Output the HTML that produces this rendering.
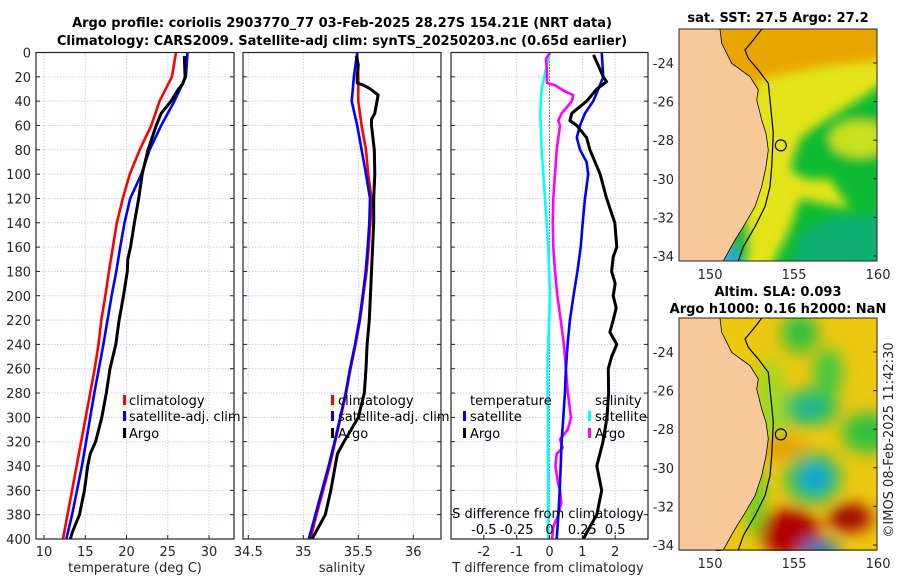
<!DOCTYPE html>
<html><head><meta charset="utf-8"><style>
html,body{margin:0;padding:0;background:#fff;}
svg{display:block;font-family:"DejaVu Sans","Liberation Sans",sans-serif;}
</style></head><body>
<svg id="fig" width="900" height="580" viewBox="0 0 900 580" xmlns="http://www.w3.org/2000/svg">
<defs>
<filter id="blur1" x="-20%" y="-20%" width="140%" height="140%"><feGaussianBlur stdDeviation="5"/></filter>
<filter id="blur2" x="-30%" y="-30%" width="160%" height="160%"><feGaussianBlur stdDeviation="8"/></filter>
<clipPath id="clipm1"><rect x="679" y="29" width="198" height="232"/></clipPath>
<clipPath id="clipm2"><rect x="679" y="318" width="198" height="233"/></clipPath>
</defs>
<text x="342" y="27" text-anchor="middle" font-size="13" font-weight="bold" fill="#000">Argo profile: coriolis 2903770_77 03-Feb-2025 28.27S 154.21E (NRT data)</text>
<text x="342" y="45" text-anchor="middle" font-size="13" font-weight="bold" fill="#000">Climatology: CARS2009. Satellite-adj clim: synTS_20250203.nc (0.65d earlier)</text>
<g id="panels"></g>
<g id="maps"></g>
<text transform="translate(893,440) rotate(-90)" text-anchor="middle" font-size="13" fill="#262626">©IMOS 08-Feb-2025 11:42:30</text>
</svg>
<script>
// ---- data ----
const depthClim = [0,20,40,60,80,100,120,140,160,180,200,220,240,260,280,300,320,340,360,380,400];
const tempClim = [26.0,25.5,24.0,23.0,21.6,20.4,19.55,18.83,18.35,17.87,17.43,16.95,16.6,16.15,15.6,15.06,14.5,13.95,13.4,12.85,12.3];
const tempSat  = [27.4,27.2,25.8,24.2,22.8,21.8,20.45,19.76,19.24,18.76,18.2,17.7,17.2,16.65,16.1,15.6,15.1,14.6,14.0,13.4,12.7];
const depthArgoT = [3,20,26,30,40,50,60,80,100,120,140,160,170,180,200,220,240,260,280,300,320,330,340,360,380,390,395,400];
const tempArgo = [27.0,27.1,26.8,26.3,25.4,24.2,23.6,22.6,21.9,21.48,20.96,20.48,20.16,20.1,19.64,19.1,18.7,18.0,17.55,17.0,16.26,15.6,15.3,14.9,14.3,13.7,13.4,13.2];
const salClim = [35.49,35.50,35.50,35.53,35.57,35.59,35.62,35.61,35.595,35.575,35.545,35.515,35.475,35.43,35.39,35.34,35.29,35.24,35.18,35.12,35.065];
const salSat  = [35.49,35.46,35.44,35.49,35.53,35.57,35.606,35.60,35.585,35.567,35.54,35.51,35.47,35.425,35.385,35.335,35.285,35.23,35.17,35.11,35.05];
const depthArgoS = [3,10,20,25,27,30,35,40,50,55,60,80,100,120,140,160,180,200,220,240,260,280,300,320,330,340,360,380,400];
const salArgo = [35.48,35.50,35.49,35.49,35.55,35.61,35.68,35.67,35.65,35.62,35.62,35.645,35.65,35.64,35.64,35.63,35.62,35.61,35.60,35.58,35.57,35.555,35.50,35.37,35.31,35.29,35.25,35.20,35.08];
const depthDT = [2,20,24,30,40,50,56,60,70,80,100,120,140,160,168,180,190,200,210,220,230,240,250,260,280,300,320,340,360,380,390,400];
const dTArgo = [1.34,1.64,1.74,1.44,1.13,0.68,0.62,0.83,1.13,1.23,1.54,1.74,1.99,2.05,1.94,1.89,2.0,1.94,2.03,1.94,1.84,2.05,1.89,1.79,1.80,1.75,1.63,1.44,1.59,1.44,1.23,1.03];
const depthDTs = [0,20,30,40,50,60,70,80,90,100,120,140,160,180,200,220,240,260,280,300,320,340,360,380,400];
const dTSat = [1.59,1.64,1.49,1.33,1.08,0.93,0.83,0.93,1.13,1.18,1.08,1.01,0.95,0.85,0.73,0.62,0.55,0.50,0.47,0.42,0.37,0.34,0.31,0.27,0.22];
const depthDS = [0,5,15,25,27,32,35,40,44,50,56,60,80,100,120,140,160,180,200,220,240,260,278,300,310,318,325,330,340,355,360,370,380,390,400];
const dSArgo = [0.004,-0.027,-0.02,-0.02,0.042,0.118,0.18,0.17,0.14,0.093,0.067,0.08,0.055,0.042,0.029,0.025,0.029,0.042,0.06,0.085,0.11,0.125,0.138,0.164,0.14,0.08,0.10,0.055,0.045,0.067,0.08,0.09,0.067,0.029,0.019];
const depthDSs = [0,10,30,50,80,120,160,200,260,300,400];
const dSSat = [0.004,-0.02,-0.06,-0.07,-0.06,-0.034,-0.01,0.004,-0.017,-0.012,-0.01];
const depthTicks = [0,20,40,60,80,100,120,140,160,180,200,220,240,260,280,300,320,340,360,380,400];
const tTicks = [10,15,20,25,30];
const sTicks = [34.5,35,35.5,36];
const dTTicks = [-2,-1,0,1,2];
const dSTicks = [-0.5,-0.25,0,0.25,0.5];
const dSTickLabels = ["-0.5","-0.25","0","0.25","0.5"];
const lonTicks = [150,155,160];
const latTicks = [-24,-26,-28,-30,-32,-34];
const argoLon = 154.21, argoLat = -28.27;

const NS='http://www.w3.org/2000/svg';
const fig=document.getElementById('panels');
function mk(tag,attrs,parent){const e=document.createElementNS(NS,tag);for(const k in attrs)e.setAttribute(k,attrs[k]);(parent||fig).appendChild(e);return e;}
const top0=52.5, bot0=539;
const yD = d => top0 + d*(bot0-top0)/400;
function linX(x0,x1,v0,v1){return v=>x0+(v-v0)*(x1-x0)/(v1-v0);}
const xT = linX(44,209,10,30);
const xS = linX(248.3,413.3,34.5,36);
const xDT = linX(451,648,-3,3);
const xDS = linX(451,648,-0.75,0.75);

const P=[{x0:36,x1:234,name:'temperature-panel'},{x0:243,x1:441,name:'salinity-panel'},{x0:451,x1:648,name:'difference-panel'}];

function grid(p,xs,fx){
  depthTicks.forEach(d=>{const g=mk('line',{x1:p.x0,x2:p.x1,y1:yD(d),y2:yD(d),stroke:'#c8cdf0','stroke-width':1,'stroke-dasharray':'1.5 1.5'});
    });
  xs.forEach(v=>{const g=mk('line',{x1:fx(v),x2:fx(v),y1:top0,y2:bot0,stroke:'#c8cdf0','stroke-width':1,'stroke-dasharray':'1.5 1.5'});
    });
}
function frame(p,xs,fx){
  const r=mk('rect',{x:p.x0,y:top0,width:p.x1-p.x0,height:bot0-top0,fill:'none',stroke:'#262626','stroke-width':1.2});
  
  depthTicks.forEach(d=>{
    const a=mk('line',{x1:p.x0,x2:p.x0+4,y1:yD(d),y2:yD(d),stroke:'#262626'});
    
    const b=mk('line',{x1:p.x1-4,x2:p.x1,y1:yD(d),y2:yD(d),stroke:'#262626'});
    
  });
  xs.forEach(v=>{const t=mk('line',{x1:fx(v),x2:fx(v),y1:bot0-4,y2:bot0,stroke:'#262626'});
    });
}
function line(xs,ys,fx,color,name,w){
  const pts=xs.map((v,i)=>fx(v).toFixed(1)+','+yD(ys[i]).toFixed(1)).join(' ');
  const l=mk('polyline',{points:pts,fill:'none',stroke:color,'stroke-width':w||2.6,'stroke-linejoin':'round'});
  
}
function text(x,y,s,opts,name){
  const t=mk('text',Object.assign({x:x,y:y,'font-size':13,fill:'#262626'},opts||{}));t.textContent=s;
  return t;
}
function marker(x,y,color){
  const m=mk('rect',{x:x,y:y-10,width:3,height:10,fill:color});
  
}

// panel 1
grid(P[0],tTicks,xT);
line(tempClim,depthClim,xT,'#ff0000','temp-climatology-line');
line(tempSat,depthClim,xT,'#0000ff','temp-satellite-line');
line(tempArgo,depthArgoT,xT,'#000000','temp-argo-line',3);
frame(P[0],tTicks,xT);
depthTicks.forEach(d=>text(31,yD(d)+5,String(d),{'text-anchor':'end'},'depth-tick-label'));
tTicks.forEach(v=>text(xT(v),556,String(v),{'text-anchor':'middle'},'temp-tick-label'));
text(135,572,'temperature (deg C)',{'text-anchor':'middle'},'temp-axis-title');
marker(123,405,'#ff0000');text(129,405,'climatology',{fill:'#000'},'legend-climatology');
marker(123,421,'#0000ff');text(129,421,'satellite-adj. clim',{fill:'#000'},'legend-satellite-adj');
marker(123,438,'#000');text(129,438,'Argo',{fill:'#000'},'legend-argo');

// panel 2
grid(P[1],sTicks,xS);
line(salClim,depthClim,xS,'#ff0000','sal-climatology-line');
line(salSat,depthClim,xS,'#0000ff','sal-satellite-line');
line(salArgo,depthArgoS,xS,'#000000','sal-argo-line',3);
frame(P[1],sTicks,xS);
sTicks.forEach(v=>text(xS(v),556,String(v),{'text-anchor':'middle'},'sal-tick-label'));
text(342,572,'salinity',{'text-anchor':'middle'},'sal-axis-title');
marker(331,405,'#ff0000');text(338,405,'climatology',{fill:'#000'},'legend-climatology');
marker(331,421,'#0000ff');text(338,421,'satellite-adj. clim',{fill:'#000'},'legend-satellite-adj');
marker(331,438,'#000');text(338,438,'Argo',{fill:'#000'},'legend-argo');

// panel 3
grid(P[2],dTTicks,xDT);
const zl=mk('line',{x1:xDT(0),x2:xDT(0),y1:top0,y2:bot0,stroke:'#333','stroke-width':1,'stroke-dasharray':'1 2'});

line(dSSat,depthDSs,xDS,'#00ffff','sdiff-satellite-line');
line(dSArgo,depthDS,xDS,'#ff00ff','sdiff-argo-line');
line(dTSat,depthDTs,xDT,'#0000ff','tdiff-satellite-line');
line(dTArgo,depthDT,xDT,'#000000','tdiff-argo-line',3);
frame(P[2],dTTicks,xDT);
dTTicks.forEach(v=>text(xDT(v),556,String(v),{'text-anchor':'middle'},'tdiff-tick-label'));
text(548,572,'T difference from climatology',{'text-anchor':'middle'},'tdiff-axis-title');
text(548,518,'S difference from climatology',{'text-anchor':'middle',fill:'#000'},'sdiff-axis-title');
dSTicks.forEach((v,i)=>text(xDS(v),534,dSTickLabels[i],{'text-anchor':'middle',fill:'#000'},'sdiff-tick-label'));
text(470,405,'temperature',{fill:'#000'},'legend-temperature-header');
marker(463,421,'#0000ff');text(470,421,'satellite',{fill:'#000'},'legend-t-satellite');
marker(463,438,'#000');text(470,438,'Argo',{fill:'#000'},'legend-t-argo');
text(595,405,'salinity',{fill:'#000'},'legend-salinity-header');
marker(588,421,'#00ffff');text(595,421,'satellite',{fill:'#000'},'legend-s-satellite');
marker(588,438,'#ff00ff');text(595,438,'Argo',{fill:'#000'},'legend-s-argo');

// ---- maps ----
const maps=document.getElementById('maps');
function mm(tag,attrs,parent){return mk(tag,attrs,parent||maps);}
const coastZ=[[240,88],[245,130],[275,190],[330,230],[355,270],[350,300],[365,360],[378,400],[385,450],[378,500],[365,560],[345,620],[310,680],[285,720],[250,783]];
const contZ=[[365,88],[340,120],[315,150],[325,175],[355,210],[385,250],[390,300],[400,400],[395,500],[390,560],[375,620],[345,680],[310,740],[295,783]];
function pathPts(arr,dy){return arr.map(p=>(640+p[0]/3).toFixed(1)+','+(p[1]/3+dy).toFixed(1));}
function drawMap(top,idx){
  const g=mm('g',{'clip-path':'url(#clipm'+idx+')'});
  
  const dy=top-29;
  const X=lon=>679+(lon-148.15)*16.8, Y=lat=>top+(-22.24-lat)*19.3;
  if(idx===1){
    mm('rect',{x:679,y:top,width:198,height:233,fill:'#e4e41a'},g);
    const b=mm('g',{filter:'url(#blur1)'},g);
    mm('polygon',{points:`700,${top-10} 890,${top-10} 890,${top+30} 820,${top+38} 760,${top+50} 745,${top+85} 730,${top+90} 700,${top+60}`,fill:'#eaa600'},b);
    mm('polygon',{points:`890,${top+50} 860,${top+70} 820,${top+95} 800,${top+110} 790,${top+140} 805,${top+150} 830,${top+150} 850,${top+180} 800,${top+170} 790,${top+200} 770,${top+240} 890,${top+240}`,fill:'#10bb30'},b);
    mm('ellipse',{cx:860,cy:top+110,rx:30,ry:18,fill:'#c8e020'},b);
    mm('polygon',{points:`790,${top+250} 800,${top+205} 830,${top+190} 890,${top+185} 890,${top+250}`,fill:'#10b070'},b);
    mm('ellipse',{cx:738,cy:top+215,rx:10,ry:30,fill:'#20b840'},b);
    mm('ellipse',{cx:730,cy:top+232,rx:10,ry:14,fill:'#20a8e0'},b);
  } else {
    mm('rect',{x:679,y:top,width:198,height:233,fill:'#ecc810'},g);
    const b=mm('g',{filter:'url(#blur2)'},g);
    mm('ellipse',{cx:800,cy:top+15,rx:18,ry:20,fill:'#30c040'},b);
    mm('ellipse',{cx:828,cy:top+55,rx:14,ry:25,fill:'#40c840'},b);
    mm('ellipse',{cx:808,cy:top+90,rx:30,ry:18,fill:'#20c060'},b);
    mm('ellipse',{cx:810,cy:top+90,rx:12,ry:9,fill:'#20b0a0'},b);
    mm('ellipse',{cx:868,cy:top+115,rx:26,ry:20,fill:'#30c040'},b);
    mm('ellipse',{cx:770,cy:top+90,rx:16,ry:50,fill:'#a0d820'},b);
    mm('ellipse',{cx:755,cy:top+180,rx:10,ry:40,fill:'#60d020'},b);
    mm('ellipse',{cx:813,cy:top+160,rx:28,ry:26,fill:'#30c050'},b);
    mm('ellipse',{cx:815,cy:top+160,rx:15,ry:14,fill:'#10a0e0'},b);
    mm('ellipse',{cx:790,cy:top+215,rx:30,ry:25,fill:'#b00000'},b);
    mm('ellipse',{cx:850,cy:top+200,rx:22,ry:14,fill:'#a00000'},b);
    mm('ellipse',{cx:820,cy:top+232,rx:20,ry:10,fill:'#1070d0'},b);
    mm('ellipse',{cx:780,cy:top+130,rx:30,ry:12,fill:'#e8a000'},b);
  }
  const land=mm('polygon',{points:'670,'+(top-5)+' '+pathPts(coastZ,dy).join(' ')+' 670,'+(top+240),fill:'#f8c898',stroke:'#000','stroke-width':0.8},g);
  
  const c=mm('polyline',{points:pathPts(contZ,dy).join(' '),fill:'none',stroke:'#000','stroke-width':1.2},g);
  
  const dot=mm('circle',{cx:X(argoLon),cy:Y(argoLat),r:5.5,fill:'none',stroke:'#000','stroke-width':1.2},g);
  
  const fr=mm('rect',{x:679,y:top,width:198,height:232,fill:'none',stroke:'#262626','stroke-width':1});
  
  latTicks.forEach(l=>{
    const t=mm('line',{x1:877-4,x2:877,y1:Y(l),y2:Y(l),stroke:'#262626'});
    
    const s=mk('text',{x:674,y:Y(l)+5,'font-size':13,fill:'#262626','text-anchor':'end'},maps);s.textContent=String(l);
    
  });
  lonTicks.forEach(l=>{
    const s=mk('text',{x:X(l),y:top+233+17,'font-size':13,fill:'#262626','text-anchor':'middle'},maps);s.textContent=String(l);
    
  });
}
drawMap(29,1);
drawMap(318,2);
function mt(x,y,s,name){const t=mk('text',{x:x,y:y,'font-size':13,'font-weight':'bold',fill:'#000','text-anchor':'middle'},maps);t.textContent=s;
  }
mt(778,22,'sat. SST: 27.5 Argo: 27.2','sst-map-title');
mt(778,296,'Altim. SLA: 0.093','sla-map-title-1');
mt(778,313,'Argo h1000: 0.16 h2000: NaN','sla-map-title-2');
</script>
</body></html>
